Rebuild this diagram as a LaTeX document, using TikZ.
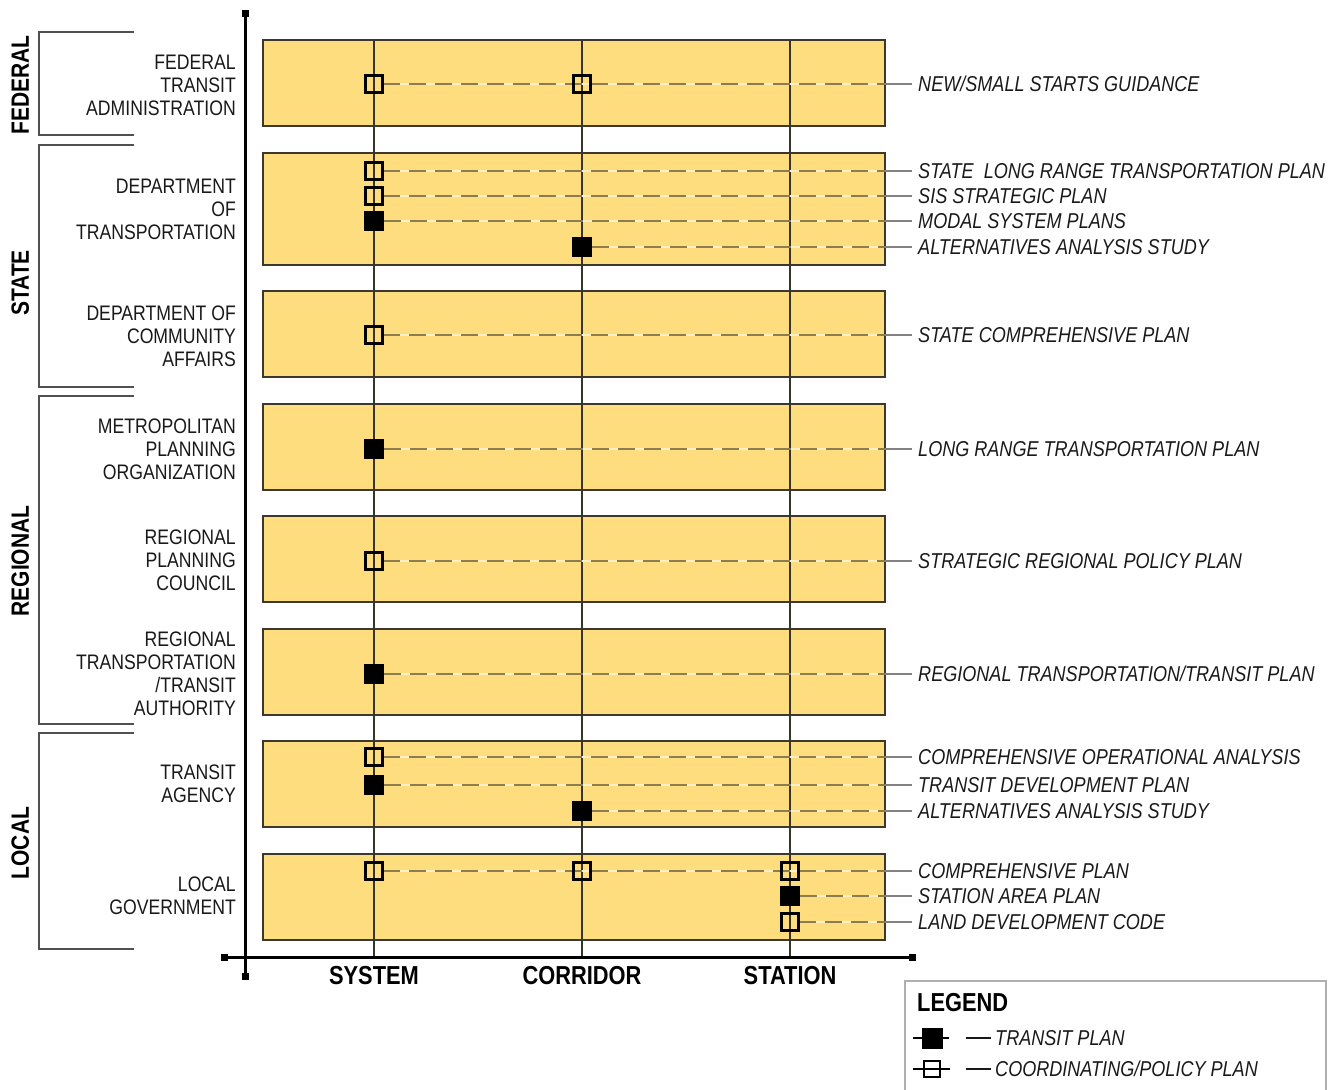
\documentclass[tikz,border=0pt]{standalone}
\usepackage{fontspec}
\setmainfont{Liberation Sans}[FakeStretch=0.84]
\pgfdeclarelayer{boxes}
\pgfdeclarelayer{lines}
\pgfsetlayers{boxes,lines,main}
\definecolor{yel}{RGB}{253,221,125}
\definecolor{boxline}{RGB}{60,56,45}
\definecolor{colline}{RGB}{55,52,45}
\definecolor{dashc}{RGB}{140,125,78}
\definecolor{gapc}{RGB}{255,240,205}
\definecolor{leadc}{RGB}{130,130,130}
\definecolor{brkc}{RGB}{80,80,80}
\definecolor{legc}{RGB}{175,175,175}
\definecolor{txt}{RGB}{25,25,25}
\newcommand\rowlink[3]{%
  \begin{pgfonlayer}{lines}
    \draw[under] (#1) -- (#1 -| #2.east);
    \draw[dashconn] (#1) -- (#1 -| #2.east);
  \end{pgfonlayer}
  \draw[lead] (#1 -| #2.east) -- (#3.west);}
\begin{document}
\begin{tikzpicture}[x=1pt,y=-1pt,
  rowbox/.style={draw=boxline, line width=1.8pt, fill=yel, minimum width=622pt, inner sep=0pt, outer sep=0pt},
  lbl/.style={font=\fontsize{21}{23}\selectfont, anchor=east, inner sep=0pt, text height=15.1pt, text depth=0pt, text=txt},
  rlbl/.style={font=\fontsize{21.5}{23}\selectfont\itshape, anchor=west, inner sep=0pt, text height=15.4pt, text depth=0pt, text=txt},
  grp/.style={font=\fontsize{25}{25}\selectfont\bfseries, rotate=90, inner sep=0pt, text height=17.9pt, text depth=0pt},
  axl/.style={font=\fontsize{26}{26}\selectfont\bfseries, inner sep=0pt, text height=18.6pt, text depth=0pt},
  tplan/.style={fill=black, minimum size=20pt, inner sep=0pt, outer sep=0pt},
  cplan/.style={draw=black, line width=2.3pt, minimum size=17pt, inner sep=0pt, outer sep=0pt},
  col/.style={draw=colline, line width=2pt},
  dashconn/.style={draw=dashc, line width=2.2pt, dash pattern=on 17pt off 9pt},
  under/.style={draw=gapc, line width=2pt},
  lead/.style={draw=leadc, line width=1.6pt, shorten >=6pt},
  brk/.style={draw=brkc, line width=2.2pt},
  axis/.style={draw=black, line width=3pt}]
\useasboundingbox (0,0) rectangle (1332,1089);

% ---- row boxes
\begin{pgfonlayer}{boxes}
\node[rowbox, minimum height=86pt]  (box1) at (574,83)  {};
\node[rowbox, minimum height=112pt] (box2) at (574,209) {};
\node[rowbox, minimum height=86pt]  (box3) at (574,334) {};
\node[rowbox, minimum height=86pt]  (box4) at (574,447) {};
\node[rowbox, minimum height=86pt]  (box5) at (574,559) {};
\node[rowbox, minimum height=86pt]  (box6) at (574,672) {};
\node[rowbox, minimum height=86pt]  (box7) at (574,784) {};
\node[rowbox, minimum height=86pt]  (box8) at (574,897) {};
\end{pgfonlayer}

% ---- axes
\coordinate (vt) at (245,14);
\coordinate (vb) at (245,976);
\coordinate (hl) at (224,957);
\coordinate (hr) at (912,957);
\draw[axis] (vt) -- (vb);
\draw[axis] (hl) -- (hr);
\foreach \c in {vt,vb,hl,hr} \fill (\c) +(-3.5,-3.5) rectangle +(3.5,3.5);

% ---- axis labels
\node[axl] (sys) at (374,975) {SYSTEM};
\node[axl] (cor) at (582,975) {CORRIDOR};
\node[axl] (sta) at (790,975) {STATION};

% ---- column lines
\begin{pgfonlayer}{lines}
\foreach \c in {sys,cor,sta} \draw[col] (\c |- box1.north) -- (\c |- hl);
\end{pgfonlayer}

% ---- brackets
\draw[brk] (134,32) -- (39,32) -- (39,135) -- (134,135);
\draw[brk] (134,145) -- (39,145) -- (39,387) -- (134,387);
\draw[brk] (134,396) -- (39,396) -- (39,724) -- (134,724);
\draw[brk] (134,733) -- (39,733) -- (39,949) -- (134,949);

\node[grp] (gfed) at (20,85)  {FEDERAL};
\node[grp] (gsta) at (20,283) {STATE};
\node[grp] (greg) at (20,561) {REGIONAL};
\node[grp] (gloc) at (20,843) {LOCAL};

% ---- agency labels
\node[lbl] (l1a) at (236,62)  {FEDERAL};
\node[lbl] (l1b) at (236,85)  {TRANSIT};
\node[lbl] (l1c) at (236,108) {ADMINISTRATION};
\node[lbl] (l2a) at (236,186) {DEPARTMENT};
\node[lbl] (l2b) at (236,209) {OF};
\node[lbl] (l2c) at (236,232) {TRANSPORTATION};
\node[lbl] (l3a) at (236,313) {DEPARTMENT OF};
\node[lbl] (l3b) at (236,336) {COMMUNITY};
\node[lbl] (l3c) at (236,359) {AFFAIRS};
\node[lbl] (l4a) at (236,426) {METROPOLITAN};
\node[lbl] (l4b) at (236,449) {PLANNING};
\node[lbl] (l4c) at (236,472) {ORGANIZATION};
\node[lbl] (l5a) at (236,537) {REGIONAL};
\node[lbl] (l5b) at (236,560) {PLANNING};
\node[lbl] (l5c) at (236,583) {COUNCIL};
\node[lbl] (l6a) at (236,639) {REGIONAL};
\node[lbl] (l6b) at (236,662) {TRANSPORTATION};
\node[lbl] (l6c) at (236,685) {/TRANSIT};
\node[lbl] (l6d) at (236,708) {AUTHORITY};
\node[lbl] (l7a) at (236,772) {TRANSIT};
\node[lbl] (l7b) at (236,795) {AGENCY};
\node[lbl] (l8a) at (236,884) {LOCAL};
\node[lbl] (l8b) at (236,907) {GOVERNMENT};

% ---- markers
\node[cplan] (a1) at (374,84) {};
\node[cplan] (a2) at (582,84) {};
\node[cplan] (b1) at (374,171) {};
\node[cplan] (b2) at (374,196) {};
\node[tplan] (b3) at (374,221) {};
\node[tplan] (b4) at (582,247) {};
\node[cplan] (c1) at (374,335) {};
\node[tplan] (d1) at (374,449) {};
\node[cplan] (e1) at (374,561) {};
\node[tplan] (f1) at (374,674) {};
\node[cplan] (g1) at (374,757) {};
\node[tplan] (g2) at (374,785) {};
\node[tplan] (g3) at (582,811) {};
\node[cplan] (h1) at (374,871) {};
\node[cplan] (h2) at (582,871) {};
\node[cplan] (h3) at (790,871) {};
\node[tplan] (h4) at (790,896) {};
\node[cplan] (h5) at (790,922) {};

% ---- plan labels
\node[rlbl] (ra)  at (918,84)  {NEW/SMALL STARTS GUIDANCE};
\node[rlbl] (rb1) at (918,171) {STATE\ \ LONG RANGE TRANSPORTATION PLAN};
\node[rlbl] (rb2) at (918,196) {SIS STRATEGIC PLAN};
\node[rlbl] (rb3) at (918,221) {MODAL SYSTEM PLANS};
\node[rlbl] (rb4) at (918,247) {ALTERNATIVES ANALYSIS STUDY};
\node[rlbl] (rc)  at (918,335) {STATE COMPREHENSIVE PLAN};
\node[rlbl] (rd)  at (918,449) {LONG RANGE TRANSPORTATION PLAN};
\node[rlbl] (re)  at (918,561) {STRATEGIC REGIONAL POLICY PLAN};
\node[rlbl] (rf)  at (918,674) {REGIONAL TRANSPORTATION/TRANSIT PLAN};
\node[rlbl] (rg1) at (918,757) {COMPREHENSIVE OPERATIONAL ANALYSIS};
\node[rlbl] (rg2) at (918,785) {TRANSIT DEVELOPMENT PLAN};
\node[rlbl] (rg3) at (918,811) {ALTERNATIVES ANALYSIS STUDY};
\node[rlbl] (rh1) at (918,871) {COMPREHENSIVE PLAN};
\node[rlbl] (rh2) at (918,896) {STATION AREA PLAN};
\node[rlbl] (rh3) at (918,922) {LAND DEVELOPMENT CODE};

% ---- connectors
\rowlink{a1}{box1}{ra}
\rowlink{b1}{box2}{rb1}
\rowlink{b2}{box2}{rb2}
\rowlink{b3}{box2}{rb3}
\rowlink{b4}{box2}{rb4}
\rowlink{c1}{box3}{rc}
\rowlink{d1}{box4}{rd}
\rowlink{e1}{box5}{re}
\rowlink{f1}{box6}{rf}
\rowlink{g1}{box7}{rg1}
\rowlink{g2}{box7}{rg2}
\rowlink{g3}{box7}{rg3}
\rowlink{h1}{box8}{rh1}
\rowlink{h4}{box8}{rh2}
\rowlink{h5}{box8}{rh3}

% ---- legend
\draw[draw=legc, line width=2pt] (905,1095) -- (905,981) -- (1326,981) -- (1326,1095);
\node[axl, anchor=west] (legt) at (917,1002) {LEGEND};
\coordinate (lt0) at (913,1038);
\coordinate (lc0) at (913,1069);
\draw[black, line width=1.2pt] (lt0) -- ++(36,0);
\node[tplan, minimum size=21pt] (lt) at (932,1038) {};
\node[cplan, minimum size=16pt] (lc) at (932,1069) {};
\draw[black, line width=1.2pt] (lc0) -- ++(37,0);
\node[rlbl] (ltt) at (995,1038) {TRANSIT PLAN};
\node[rlbl] (lct) at (995,1069) {COORDINATING/POLICY PLAN};
\draw[txt, line width=1.2pt] (966,1038) -- ([xshift=-4pt]ltt.west);
\draw[txt, line width=1.2pt] (966,1069) -- ([xshift=-4pt]lct.west);
\end{tikzpicture}
\end{document}
